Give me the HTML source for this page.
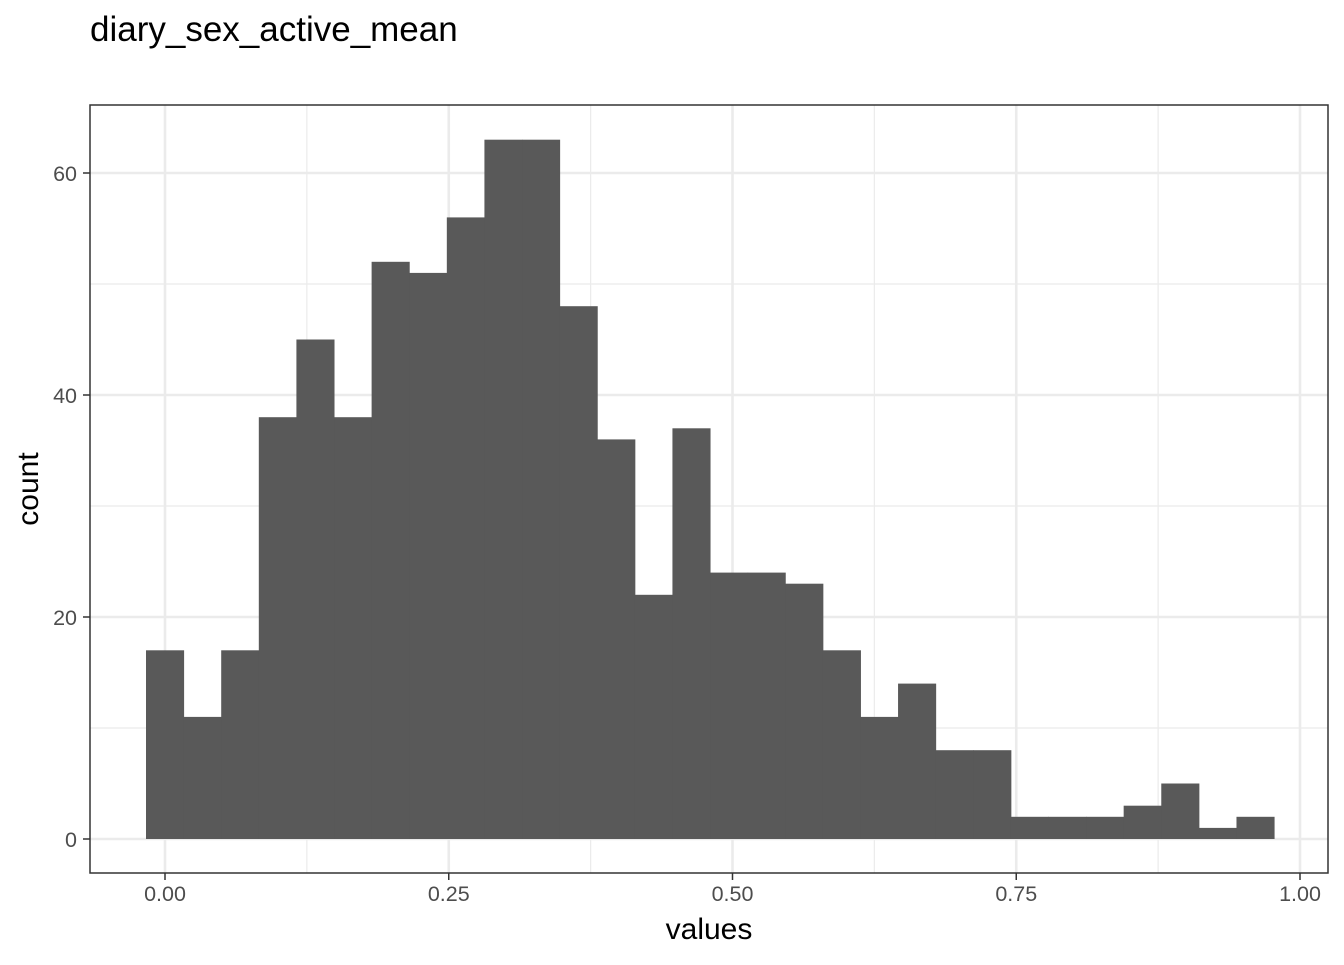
<!DOCTYPE html>
<html><head><meta charset="utf-8"><style>
body{margin:0;background:#fff;}
svg text{font-family:"Liberation Sans",Arial,sans-serif;}
</style></head><body>
<svg id="chart" width="1344" height="960" xmlns="http://www.w3.org/2000/svg">
<text x="90" y="41" font-size="35" fill="#000">diary_sex_active_mean</text>
<g id="grid"></g>
<g id="bars"></g>
<rect x="90" y="105" width="1238" height="768" fill="none" stroke="#333" stroke-width="1.5"/>
<g id="axes"></g>
<text x="709" y="939" font-size="30" text-anchor="middle" fill="#000">values</text>
<text transform="translate(38,489) rotate(-90)" font-size="30" text-anchor="middle" fill="#000">count</text>
</svg>
<script>
const counts=[17,11,17,38,45,38,52,51,56,63,63,48,36,22,37,24,24,23,17,11,14,8,8,2,2,2,3,5,1,2];
const binStart=-0.01674;
const binWidth=0.03313;
const xTicks=[0,0.25,0.5,0.75,1];
const xTickLabels=["0.00","0.25","0.50","0.75","1.00"];
const yTicks=[0,20,40,60];
const yTickLabels=["0","20","40","60"];
const xMinor=[0.125,0.375,0.625,0.875];
const yMinor=[10,30,50];

const X=v=>165+v*1135;
const Y=v=>839-v*11.1;
const NS="http://www.w3.org/2000/svg";
function mk(tag,attrs,parent){const e=document.createElementNS(NS,tag);for(const k in attrs)e.setAttribute(k,attrs[k]);parent.appendChild(e);return e;}
const grid=document.getElementById('grid'),bars=document.getElementById('bars'),axes=document.getElementById('axes');
xMinor.forEach(v=>{const l=mk('line',{x1:X(v),x2:X(v),y1:105,y2:873,stroke:'#ebebeb','stroke-width':1.2},grid);

});
yMinor.forEach(v=>{const l=mk('line',{x1:90,x2:1328,y1:Y(v),y2:Y(v),stroke:'#ebebeb','stroke-width':1.2},grid);

});
xTicks.forEach((v,i)=>{const l=mk('line',{x1:X(v),x2:X(v),y1:105,y2:873,stroke:'#ebebeb','stroke-width':2.6},grid);


const t=mk('line',{x1:X(v),x2:X(v),y1:873,y2:880,stroke:'#333','stroke-width':1.5},axes);


const tx=mk('text',{x:X(v),y:901,'font-size':21.5,'text-anchor':'middle',fill:'#4d4d4d'},axes);tx.textContent=xTickLabels[i];

});
yTicks.forEach((v,i)=>{const l=mk('line',{x1:90,x2:1328,y1:Y(v),y2:Y(v),stroke:'#ebebeb','stroke-width':2.6},grid);


const t=mk('line',{x1:83,x2:90,y1:Y(v),y2:Y(v),stroke:'#333','stroke-width':1.5},axes);


const tx=mk('text',{x:77,y:Y(v)+8,'font-size':21.5,'text-anchor':'end',fill:'#4d4d4d'},axes);tx.textContent=yTickLabels[i];

});
counts.forEach((c,i)=>{const x0=X(binStart+i*binWidth),x1=X(binStart+(i+1)*binWidth);
const r=mk('rect',{x:x0,y:Y(c),width:x1-x0+0.5,height:Y(0)-Y(c),fill:'#595959'},bars);

});
</script>
</body></html>
